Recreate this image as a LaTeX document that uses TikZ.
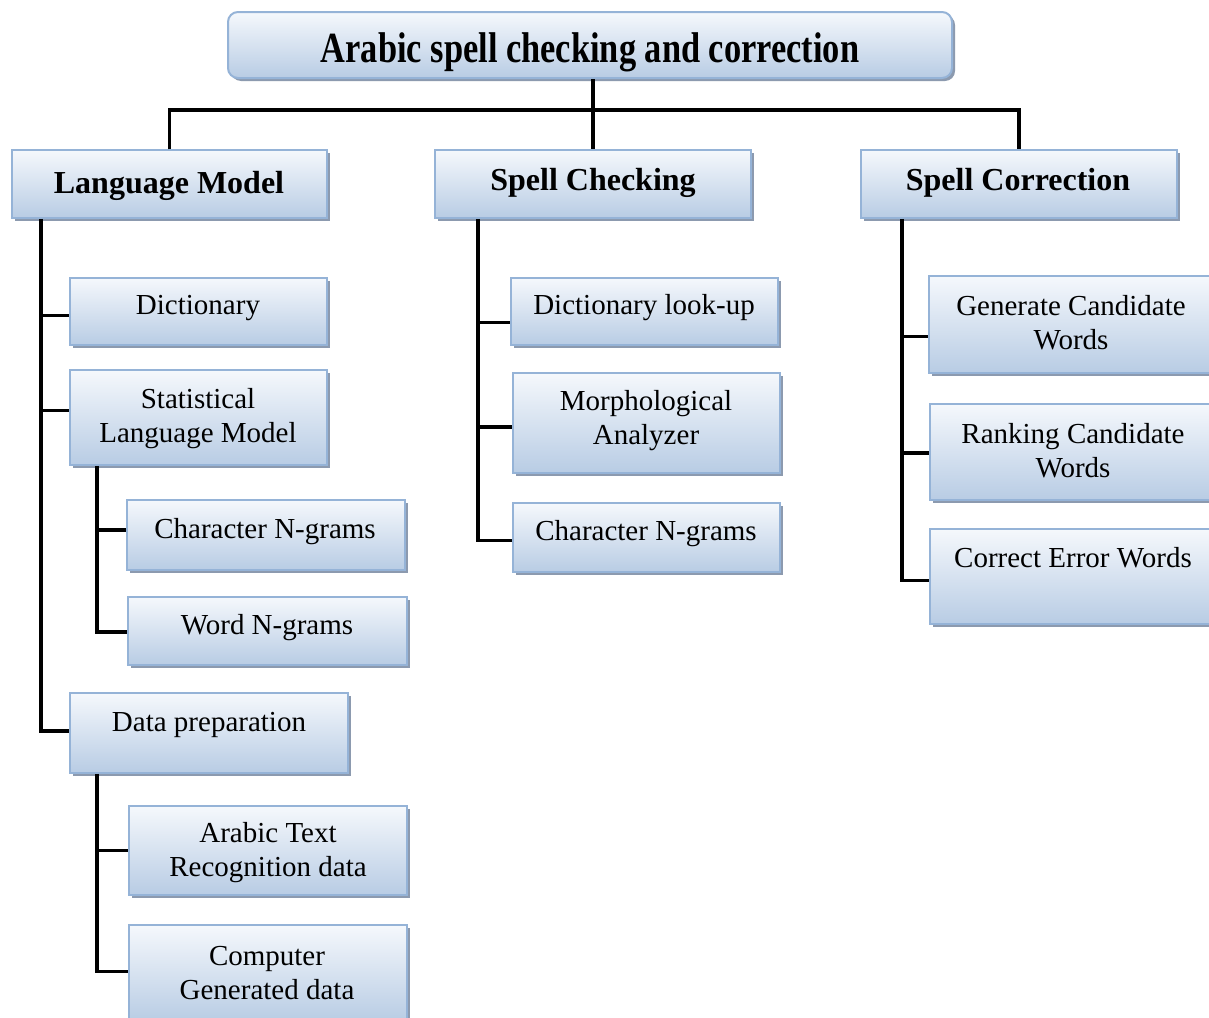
\documentclass[tikz,border=0pt]{standalone}
\usepackage{fontspec}
\setmainfont{Liberation Serif}
\usetikzlibrary{calc}
\definecolor{boxtop}{HTML}{F5F8FC}
\definecolor{boxbot}{HTML}{B8CCE4}
\definecolor{boxedge}{HTML}{95B3D7}
\definecolor{shadowc}{HTML}{8C9AAF}
\tikzset{
  boxst/.style={draw=boxedge, line width=1.5pt, top color=boxtop, bottom color=boxbot, inner sep=0pt, rectangle},
  conn/.style={line width=3.5pt, black},
  lbl/.style={font=\fontsize{29}{34}\selectfont, align=center, inner sep=0pt},
  hdr/.style={font=\bfseries\fontsize{32}{36}\selectfont, inner sep=0pt},
}
\newcommand\mybox[5]{%
  \fill[shadowc] (#2+3,#3+3) rectangle (#4+3,#5+3);
  \node[boxst, minimum width={#4pt-#2pt}, minimum height={#5pt-#3pt}] (#1) at ({(#2+#4)/2},{(#3+#5)/2}) {};}
\begin{document}
\begin{tikzpicture}[x=1pt,y=-1pt]
\useasboundingbox (0,0) rectangle (1209,1017);
\clip (0,0) rectangle (1209,1017);
\fill[white] (0,0) rectangle (1209,1017);
% title
\fill[shadowc, rounded corners=10pt] (231,15) rectangle (955,81);
\node[boxst, rounded corners=10pt, line width=2pt, minimum width=724pt, minimum height=66pt] (title) at (590,45) {};
\node[hdr, anchor=base] (titlet) at (590,62) {\scalebox{0.8}[1]{\fontsize{43}{48}\selectfont Arabic spell checking and correction}};
% level 1
\mybox{lm}{12}{150}{327}{218}
\mybox{sc}{435}{150}{751}{218}
\mybox{scor}{861}{150}{1177}{218}
\node[hdr, anchor=base] (lmt) at (169,193) {Language Model};
\node[hdr, anchor=base] (sct) at (593,190) {Spell Checking};
\node[hdr, anchor=base] (scort) at (1018,190) {Spell Correction};
% language model branch
\mybox{dict}{70}{278}{327}{345}
\mybox{stat}{70}{370}{327}{465}
\mybox{cng}{127}{500}{405}{570}
\mybox{wng}{128}{597}{407}{665}
\mybox{dp}{70}{693}{348}{773}
\mybox{atr}{129}{806}{407}{895}
\mybox{cgd}{129}{925}{407}{1022}
\node[lbl, anchor=base] (dictt) at (198,314) {Dictionary};
\node[lbl] (statt) at (198,419) {Statistical\\Language Model};
\node[lbl, anchor=base] (cngt) at (265,538) {Character N-grams};
\node[lbl, anchor=base] (wngt) at (267,634) {Word N-grams};
\node[lbl, anchor=base] (dpt) at (209,731) {Data preparation};
\node[lbl] (atrt) at (268,853) {Arabic Text\\Recognition data};
\node[lbl] (cgdt) at (267,973) {Computer\\Generated data};
% spell checking branch
\mybox{dlu}{511}{278}{778}{345}
\mybox{morph}{513}{373}{780}{473}
\mybox{cngb}{513}{503}{780}{572}
\node[lbl, anchor=base] (dlut) at (644,314) {Dictionary look-up};
\node[lbl] (morpht) at (646,421) {Morphological\\Analyzer};
\node[lbl, anchor=base] (cngbt) at (646,540) {Character N-grams};
% spell correction branch
\mybox{gcw}{929}{276}{1220}{373}
\mybox{rcw}{930}{404}{1220}{500}
\mybox{cew}{930}{529}{1220}{624}
\node[lbl] (gcwt) at (1071,323) {Generate Candidate\\Words};
\node[lbl] (rcwt) at (1073,451) {Ranking Candidate\\Words};
\node[lbl, anchor=base] (cewt) at (1073,567) {Correct Error Words};
% connectors
\coordinate (bus) at (593,110);
\coordinate (lmx) at (41,0);
\coordinate (sx) at (97,0);
\coordinate (scx) at (478,0);
\coordinate (scorx) at (902,0);
\draw[conn] (title.south -| sc.north) -- (sc.north);
\draw[conn] (lm.north) -- (lm.north |- bus) -| (scor.north);
% attachment points
\coordinate (dictc) at ($(dict.west)+(0,4)$);
\coordinate (statc) at ($(stat.west)+(0,-7)$);
\coordinate (dpc) at ($(dp.west)+(0,-2)$);
\coordinate (cngc) at ($(cng.west)+(0,-5)$);
\coordinate (wngc) at ($(wng.west)+(0,1)$);
\coordinate (atrc) at ($(atr.west)+(0,0)$);
\coordinate (cgdc) at ($(cgd.west)+(0,-2)$);
\coordinate (dluc) at ($(dlu.west)+(0,11)$);
\coordinate (morphc) at ($(morph.west)+(0,4)$);
\coordinate (cngbc) at ($(cngb.west)+(0,3)$);
\coordinate (gcwc) at ($(gcw.west)+(0,12)$);
\coordinate (rcwc) at ($(rcw.west)+(0,1)$);
\coordinate (cewc) at ($(cew.west)+(0,4)$);
% trunks
\draw[conn] (lm.south -| lmx) -- (dpc -| lmx) -- (dpc);
\draw[conn] (dictc -| lmx) -- (dictc);
\draw[conn] (statc -| lmx) -- (statc);
\draw[conn] (stat.south -| sx) -- (wngc -| sx) -- (wngc);
\draw[conn] (cngc -| sx) -- (cngc);
\draw[conn] (dp.south -| sx) -- (cgdc -| sx) -- (cgdc);
\draw[conn] (atrc -| sx) -- (atrc);
\draw[conn] (sc.south -| scx) -- (cngbc -| scx) -- (cngbc);
\draw[conn] (dluc -| scx) -- (dluc);
\draw[conn] (morphc -| scx) -- (morphc);
\draw[conn] (scor.south -| scorx) -- (cewc -| scorx) -- (cewc);
\draw[conn] (gcwc -| scorx) -- (gcwc);
\draw[conn] (rcwc -| scorx) -- (rcwc);
\end{tikzpicture}
\end{document}
